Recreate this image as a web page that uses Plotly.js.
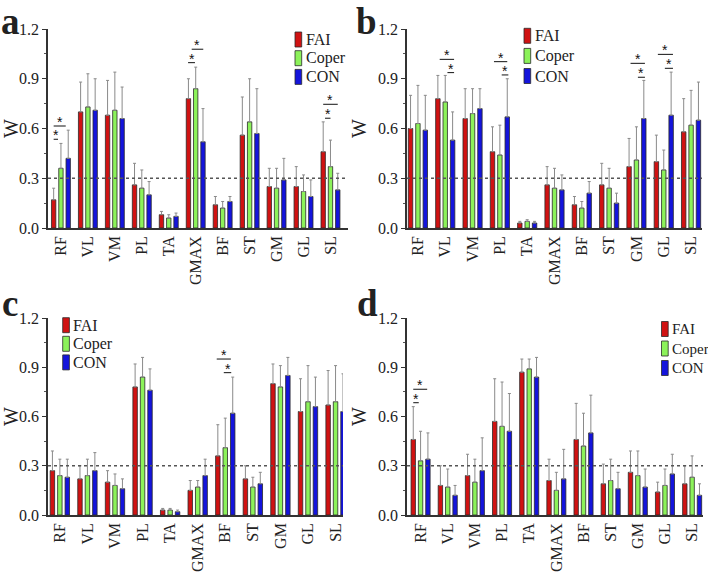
<!DOCTYPE html>
<html>
<head>
<meta charset="utf-8">
<script src="https://cdn.plot.ly/plotly-3.0.1.min.js"></script>
<style>html,body{margin:0;padding:0;background:#fff;}#chart{width:708px;height:572px;}</style>
</head>
<body>
<div id="chart"></div>
<script>
// ---------- data ----------
const muscles = ['RF','VL','VM','PL','TA','GMAX','BF','ST','GM','GL','SL'];
const groupNames = ['FAI','Coper','CON'];
const panelLetters = ['a','b','c','d'];
const yTickVals = [0, 0.3, 0.6, 0.9, 1.2];
const refLine = 0.3;

// panel a
const aFAI   = [0.17,0.70,0.68,0.26,0.08,0.78,0.14,0.56,0.25,0.25,0.46];
const aFAIsd = [0.07,0.18,0.21,0.13,0.02,0.12,0.05,0.23,0.11,0.12,0.18];
const aCop   = [0.36,0.73,0.71,0.24,0.06,0.84,0.12,0.64,0.24,0.22,0.37];
const aCopsd = [0.15,0.20,0.23,0.11,0.02,0.13,0.04,0.26,0.12,0.10,0.16];
const aCON   = [0.42,0.71,0.66,0.20,0.07,0.52,0.16,0.57,0.29,0.19,0.23];
const aCONsd = [0.17,0.19,0.19,0.08,0.02,0.20,0.03,0.27,0.13,0.10,0.10];
// panel b
const bFAI   = [0.60,0.78,0.66,0.46,0.03,0.26,0.14,0.26,0.37,0.40,0.58];
const bFAIsd = [0.20,0.14,0.18,0.15,0.01,0.11,0.05,0.13,0.17,0.16,0.20];
const bCop   = [0.63,0.76,0.69,0.44,0.04,0.24,0.12,0.24,0.41,0.35,0.62];
const bCopsd = [0.23,0.16,0.15,0.18,0.01,0.12,0.04,0.12,0.20,0.12,0.21];
const bCON   = [0.59,0.53,0.72,0.67,0.03,0.23,0.21,0.15,0.66,0.68,0.65];
const bCONsd = [0.21,0.17,0.12,0.23,0.01,0.09,0.07,0.06,0.23,0.26,0.23];
// panel c
const cFAI   = [0.27,0.22,0.20,0.78,0.03,0.15,0.36,0.22,0.80,0.63,0.67];
const cFAIsd = [0.12,0.08,0.07,0.14,0.01,0.06,0.19,0.08,0.12,0.20,0.21];
const cCop   = [0.24,0.24,0.18,0.84,0.03,0.17,0.41,0.17,0.78,0.69,0.69];
const cCopsd = [0.10,0.10,0.07,0.12,0.01,0.04,0.18,0.06,0.13,0.22,0.22];
const cCON   = [0.23,0.27,0.16,0.76,0.02,0.24,0.62,0.19,0.85,0.66,0.63];
const cCONsd = [0.11,0.11,0.06,0.13,0.01,0.10,0.22,0.07,0.11,0.18,0.23];
// panel d
const dFAI   = [0.46,0.18,0.24,0.57,0.87,0.21,0.46,0.19,0.26,0.14,0.19];
const dFAIsd = [0.20,0.12,0.13,0.26,0.08,0.13,0.22,0.12,0.13,0.06,0.11];
const dCop   = [0.33,0.17,0.20,0.54,0.89,0.15,0.42,0.21,0.24,0.18,0.23];
const dCopsd = [0.18,0.11,0.14,0.27,0.06,0.11,0.20,0.13,0.15,0.10,0.13];
const dCON   = [0.34,0.12,0.27,0.51,0.84,0.22,0.50,0.16,0.17,0.25,0.12];
const dCONsd = [0.16,0.06,0.20,0.23,0.12,0.18,0.23,0.10,0.11,0.12,0.07];

// significance marks: muscle, bar span (group slots 0=FAI,1=Coper,2=CON), level (W)
const aSigMuscle = ['RF','RF','GMAX','GMAX','SL','SL'];
const aSigFrom   = [0, 0, 0.45, -0.05, 0, 0.25];
const aSigTo     = [1.66, 0.6, 2.04, 0.9, 2, 1];
const aSigLevel  = [0.615, 0.535, 1.078, 0.997, 0.746, 0.662];
const bSigMuscle = ['VL','VL','PL','PL','GM','GM','GL','GL'];
const bSigFrom   = [0.25, 1.3, 0.2, 1.25, 0.2, 1.2, 0.2, 1.15];
const bSigTo     = [2.2, 2.2, 2.0, 2.15, 2.15, 2.15, 2.25, 2.25];
const bSigLevel  = [1.017, 0.937, 1.003, 0.923, 0.993, 0.909, 1.047, 0.963];
const cSigMuscle = ['BF','BF'];
const cSigFrom   = [-0.15, 0.8];
const cSigTo     = [1.75, 1.8];
const cSigLevel  = [0.95, 0.867];
const dSigMuscle = ['RF','RF'];
const dSigFrom   = [0, 0];
const dSigTo     = [1.9, 0.75];
const dSigLevel  = [0.766, 0.684];

// ---------- layout helpers ----------
const W = 708, H = 572;
const colors = ['#d01212', '#8cf25a', '#1414dc'];
const serif = "'Liberation Serif', 'Times New Roman', serif";
const BARGAP = 0.19;
const slot = (1 - BARGAP) / 3;

// plot boxes in px: [left, right, top, bottom], x range; legend swatch left x, item centres y, step, font size
const boxes = [
  {l:48,  r:348, t:29,  b:228, xr:[-0.48, 10.65], leg:{sx:295, y0:39.5, dy:18.7, fs:16}},
  {l:407, r:702, t:29,  b:228, xr:[-0.40, 10.40], leg:{sx:524, y0:35.8, dy:20.1, fs:16}},
  {l:48,  r:343, t:318, b:515, xr:[-0.43, 10.27], leg:{sx:62.7, y0:325.2, dy:18.6, fs:16}},
  {l:407, r:703, t:318, b:515, xr:[-0.50, 10.40], leg:{sx:661.5, y0:329, dy:19.5, fs:15}}
];
const letterPos = [{x:0, yb:33}, {x:355, yb:33}, {x:1, yb:315}, {x:356, yb:315}];
const LETTER_SIZE = 37;

const panels = [
  {m:[aFAI,aCop,aCON], s:[aFAIsd,aCopsd,aCONsd], sig:[aSigMuscle,aSigFrom,aSigTo,aSigLevel]},
  {m:[bFAI,bCop,bCON], s:[bFAIsd,bCopsd,bCONsd], sig:[bSigMuscle,bSigFrom,bSigTo,bSigLevel]},
  {m:[cFAI,cCop,cCON], s:[cFAIsd,cCopsd,cCONsd], sig:[cSigMuscle,cSigFrom,cSigTo,cSigLevel]},
  {m:[dFAI,dCop,dCON], s:[dFAIsd,dCopsd,dCONsd], sig:[dSigMuscle,dSigFrom,dSigTo,dSigLevel]}
];

const traces = [];
const layout = {
  width: W, height: H,
  margin: {l:0, r:0, t:0, b:0},
  paper_bgcolor: '#fff', plot_bgcolor: '#fff',
  barmode: 'group', bargap: BARGAP, bargroupgap: 0.40,
  showlegend: false,
  font: {family: serif, color: '#222'},
  shapes: [], annotations: []
};

panels.forEach((p, k) => {
  const n = k === 0 ? '' : String(k + 1);
  const xa = 'x' + n, ya = 'y' + n;
  const bx = boxes[k];
  for (let g = 0; g < 3; g++) {
    traces.push({
      type: 'bar', name: groupNames[g], x: muscles, y: p.m[g],
      xaxis: xa, yaxis: ya, showlegend: false,
      marker: {color: colors[g], line: {color: '#2a2a2a', width: 0.8}},
      error_y: {type: 'data', symmetric: false, array: p.s[g],
                arrayminus: p.s[g].map(() => 0), color: '#8a8a8a', thickness: 1, width: 1.5},
      hoverinfo: 'x+y+name'
    });
  }
  layout['xaxis' + n] = {
    domain: [bx.l / W, bx.r / W], anchor: ya, type: 'category',
    categoryorder: 'array', categoryarray: muscles, range: bx.xr,
    showline: true, linecolor: '#333', linewidth: 1.5, ticks: '',
    tickangle: -90, tickfont: {family: serif, size: 16, color: '#222'},
    showgrid: false, zeroline: false, automargin: false, fixedrange: true
  };
  layout['yaxis' + n] = {
    domain: [1 - bx.b / H, 1 - bx.t / H], anchor: xa, range: [0, 1.2],
    tickvals: yTickVals, tickformat: '.1f', ticks: 'outside', ticklen: 4,
    tickcolor: '#333', tickwidth: 1.2,
    minor: {ticks: 'outside', ticklen: 2, dtick: 0.15, tickcolor: '#555'},
    showline: true, linecolor: '#333', linewidth: 1.5,
    tickfont: {family: serif, size: 16, color: '#222'},
    title: {text: 'W', font: {family: serif, size: 20, color: '#222'}, standoff: 6},
    showgrid: false, zeroline: false, automargin: false, fixedrange: true
  };
  // legend (swatches + labels) built from group names and colours
  for (let g = 0; g < 3; g++) {
    const cy = bx.leg.y0 + g * bx.leg.dy;
    layout.shapes.push({type: 'rect', xref: 'paper', yref: 'paper',
      x0: bx.leg.sx / W, x1: (bx.leg.sx + 6.7) / W,
      y0: 1 - (cy + 7.5) / H, y1: 1 - (cy - 7.5) / H,
      fillcolor: colors[g], line: {color: '#2a2a2a', width: 0.8}});
    layout.annotations.push({xref: 'paper', yref: 'paper',
      x: (bx.leg.sx + 9.5) / W, y: 1 - cy / H, xanchor: 'left', yanchor: 'middle',
      text: groupNames[g], showarrow: false, borderpad: 0,
      font: {family: serif, size: bx.leg.fs, color: '#222'}});
  }
  // reference line at 0.3
  layout.shapes.push({type: 'line', xref: xa + ' domain', yref: ya, x0: 0, x1: 1,
    y0: refLine, y1: refLine, line: {color: '#555', width: 1.3, dash: 'dot'}});
  // significance marks
  const [sm, sf, st, sl] = p.sig;
  for (let i = 0; i < sm.length; i++) {
    const c = muscles.indexOf(sm[i]);
    const x0 = c + (sf[i] - 1) * slot, x1 = c + (st[i] - 1) * slot;
    layout.shapes.push({type: 'line', xref: xa, yref: ya, x0: x0, x1: x1,
      y0: sl[i], y1: sl[i], line: {color: '#111', width: 1}});
    layout.annotations.push({xref: xa, yref: ya, x: (x0 + x1) / 2, y: sl[i],
      text: '*', showarrow: false, yanchor: 'middle', yshift: 4, borderpad: 0,
      font: {family: 'Liberation Sans, Arial, sans-serif', size: 14, color: '#111'}});
  }
  // panel letter
  layout.annotations.push({xref: 'paper', yref: 'paper', x: letterPos[k].x / W,
    y: 1 - (letterPos[k].yb - 0.891 * LETTER_SIZE) / H, xanchor: 'left', yanchor: 'top',
    text: '<b>' + panelLetters[k] + '</b>', showarrow: false, borderpad: 0,
    font: {family: serif, size: LETTER_SIZE, color: '#222'}});
});

Plotly.newPlot('chart', traces, layout, {displayModeBar: false});
</script>
</body>
</html>
